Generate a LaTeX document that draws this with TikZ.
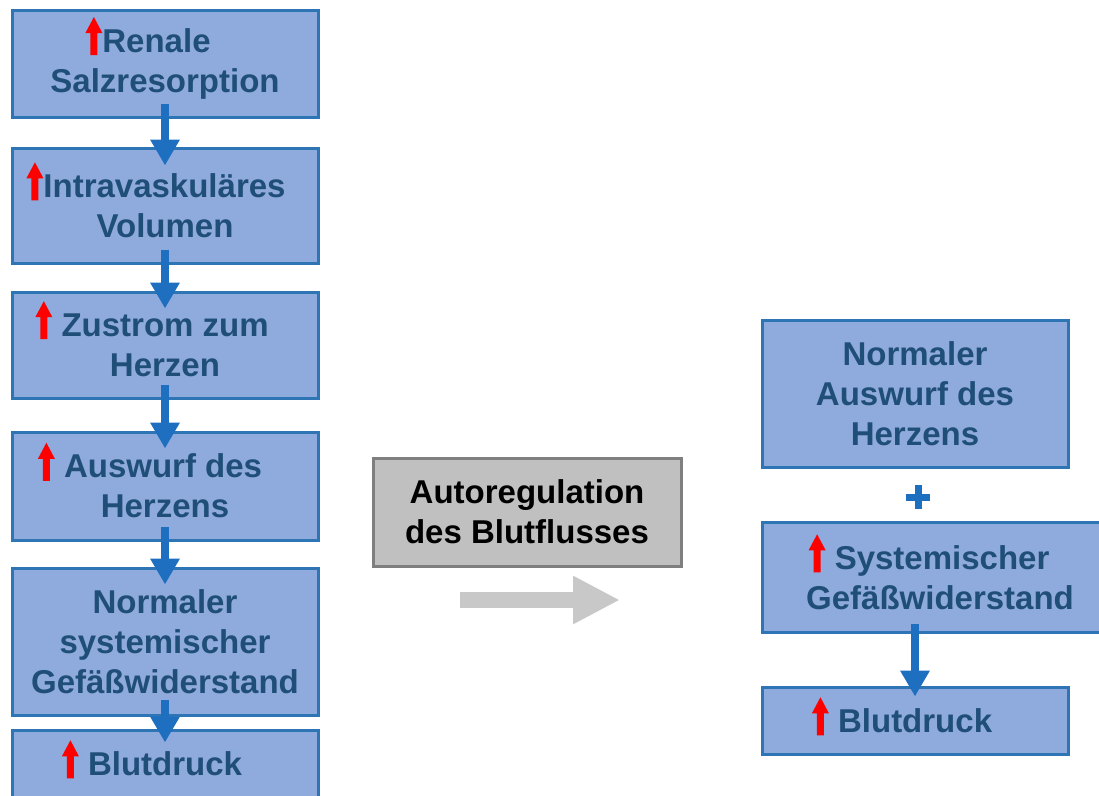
\documentclass[tikz,border=0pt]{standalone}
\usepackage{fontspec}
\setmainfont{Liberation Sans}
\usetikzlibrary{arrows.meta}
\definecolor{boxfill}{HTML}{8FAADC}
\definecolor{boxline}{HTML}{2E75B6}
\definecolor{boxtext}{HTML}{1F4E79}
\definecolor{flowblue}{HTML}{1F6FC0}
\definecolor{grayfill}{HTML}{C0C0C0}
\definecolor{grayline}{HTML}{7F7F7F}
\definecolor{grayarrowc}{HTML}{C8C8C8}
\newcommand{\upred}{\smash{\tikz[baseline=3pt]{\fill[red] (-3.5pt,0pt) -- (3.5pt,0pt) -- (3.5pt,22pt) -- (8.5pt,22pt) -- (0pt,38pt) -- (-8.5pt,22pt) -- (-3.5pt,22pt) -- cycle;}}}
\newcommand{\trail}[1]{\hspace{#1}\mbox{}}
\tikzset{
  bluebox/.style={draw=boxline, fill=boxfill, line width=3pt, rectangle, inner sep=0pt,
    text=boxtext, align=center, font=\fontsize{33}{40}\selectfont\bfseries},
  graybox/.style={draw=grayline, fill=grayfill, line width=3pt, rectangle, inner sep=0pt,
    text=black, align=center, font=\fontsize{33}{40}\selectfont\bfseries},
  flowarrow/.style={draw=flowblue, line width=8pt, -{Triangle[width=28pt,length=26pt]}},
  grayarrow/.style={draw=grayarrowc, line width=16pt, -{Triangle[width=45pt,length=47pt]}},
  plussign/.style={draw=flowblue, line width=7pt}
}
\begin{document}
\begin{tikzpicture}[x=1pt,y=-1pt]
\useasboundingbox (0,0) rectangle (1099,795);
% left column
\node[bluebox, minimum width=306pt, minimum height=107pt] (b1) at (165,63.5) {\upred Renale\trail{34pt}\\Salzresorption};
\node[bluebox, minimum width=306pt, minimum height=115pt] (b2) at (165,205.5) {\upred Intravaskuläres\trail{18pt}\\Volumen};
\node[bluebox, minimum width=306pt, minimum height=106pt] (b3) at (165,345) {\upred\ Zustrom zum\trail{26pt}\\Herzen};
\node[bluebox, minimum width=306pt, minimum height=108pt] (b4) at (165,486) {\upred\ Auswurf des\trail{30pt}\\Herzens};
\node[bluebox, minimum width=306pt, minimum height=147pt] (b5) at (165,641.5) {Normaler\\systemischer\\Gefäßwiderstand};
\node[bluebox, minimum width=306pt, minimum height=67pt] (b6) at (165,763.5) {\upred\ Blutdruck\trail{26pt}};
% middle
\node[graybox, minimum width=308pt, minimum height=108pt] (g) at (527,512) {Autoregulation\\des Blutflusses};
\coordinate (ga1) at (460,600);
\coordinate (ga2) at (620,600);
\draw[grayarrow] (ga1) -- (ga2);
% right column
\node[bluebox, minimum width=306pt, minimum height=147pt] (rA) at (915,393.5) {Normaler\\Auswurf des\\Herzens};
\node[bluebox, minimum width=356pt, minimum height=110pt] (rB) at (940,577.5) {\upred\ Systemischer\trail{22pt}\\Gefäßwiderstand};
\node[bluebox, minimum width=306pt, minimum height=67pt] (rC) at (915,720.5) {\upred\ Blutdruck\trail{26pt}};
\draw[plussign] (906,497) -- (930,497) (918,485) -- (918,509);
% connectors
\draw[flowarrow] ([yshift=15pt]b1.south) -- ([yshift=-19pt]b2.north);
\draw[flowarrow] ([yshift=15pt]b2.south) -- ([yshift=-18pt]b3.north);
\draw[flowarrow] ([yshift=15pt]b3.south) -- ([yshift=-18pt]b4.north);
\draw[flowarrow] ([yshift=15pt]b4.south) -- ([yshift=-18pt]b5.north);
\draw[flowarrow] ([yshift=17pt]b5.south) -- ([yshift=-14pt]b6.north);
\draw[flowarrow] ([yshift=10pt]rB.south -| rC.north) -- ([yshift=-11pt]rC.north);
\end{tikzpicture}
\end{document}
